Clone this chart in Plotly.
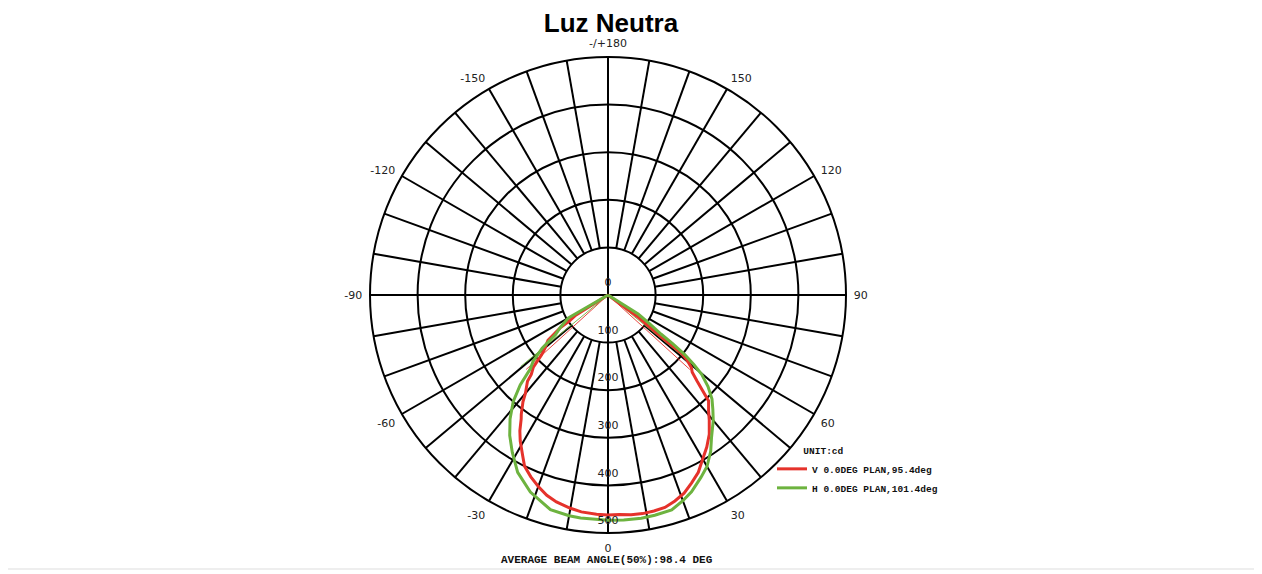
import plotly.graph_objects as go

# ---------------- data ----------------
title_text = "Luz Neutra"
unit_text = "UNIT:cd"
footer_text = "AVERAGE BEAM ANGLE(50%):98.4 DEG"

angle_tick_vals = [0, 30, 60, 90, 120, 150, 180, 210, 240, 270, 300, 330]
angle_tick_text = ["0", "30", "60", "90", "120", "150", "-/+180",
                   "-150", "-120", "-90", "-60", "-30"]
radial_tick_vals = [0, 100, 200, 300, 400, 500]

v_name = "V 0.0DEG PLAN,95.4deg"
v_beam_angle = 95.4
v_theta = [-90, -58, -56, -55.5, -53, -50, -48, -46, -44, -43, -40, -38.5, -36, -35,
           -33, -31, -28, -26, -23, -20, -17, -14, -10, -7, -3, 0, 3, 6, 9, 12, 15,
           18, 21, 24, 27, 30, 33, 36, 39, 41, 43.5, 46, 47.5, 49, 50.5, 51.5, 51.7,
           53.7, 90]
v_cd = [0, 80, 98, 122, 158, 172, 188, 218, 232, 248, 270, 287, 310, 318,
        340, 358, 382, 400, 415, 428, 440, 448, 455, 459, 461, 462, 462, 464, 465, 464, 462,
        455, 446, 432, 418, 398, 381, 362, 338, 322, 307, 260, 240, 232, 215, 198, 143,
        79, 0]

h_name = "H 0.0DEG PLAN,101.4deg"
h_beam_angle = 101.4
h_theta = [-90, -60, -56, -53, -51, -48.5, -46.5, -44.3, -41.6, -38.3, -35, -31.3, -27,
           -21.5, -15, -10, -7, 0, 4, 8.5, 12, 16.5, 20, 23, 27, 30, 33.3, 36, 40, 42.5,
           45, 47.5, 49.7, 51, 52.2, 53, 53.6, 55.5, 57.7, 90]
h_cd = [0, 96, 120, 138, 178, 210, 225, 264, 300, 332, 360, 387, 418,
        445, 467, 471, 472, 473, 474, 474, 473, 471, 460, 449, 430, 416, 393, 370, 344, 326,
        309, 285, 258, 232, 204, 170, 139, 105, 75, 0]

# ---------------- style ----------------
RED = "#e5322b"
GREEN = "#6db33f"
MONO = "Courier New, Liberation Mono, monospace"
SANS = "DejaVu Sans, Verdana, sans-serif"

W, H = 1262, 574
OFF = 8  # page offset of the rendered figure


def px(v):
    return v - OFF


fig = go.Figure()

# invisible trace so the gridded (holed) polar subplot is drawn
fig.add_trace(go.Scatterpolar(r=[100], theta=[0], mode="markers",
                              marker=dict(opacity=0), hoverinfo="skip",
                              showlegend=False, subplot="polar"))

# beam-angle thin lines (center -> 50% point)
for beam, cd, col in [(v_beam_angle, v_cd, RED), (h_beam_angle, h_cd, GREEN)]:
    half = beam / 2.0
    hv = max(cd) / 2.0
    for sgn in (-1, 1):
        fig.add_trace(go.Scatterpolar(r=[0, hv], theta=[0, sgn * half], mode="lines",
                                      line=dict(color=col, width=0.9),
                                      hoverinfo="skip", showlegend=False,
                                      subplot="polar2"))

fig.add_trace(go.Scatterpolar(r=v_cd, theta=v_theta, mode="lines", name=v_name,
                              line=dict(color=RED, width=3), subplot="polar2"))
fig.add_trace(go.Scatterpolar(r=h_cd, theta=h_theta, mode="lines", name=h_name,
                              line=dict(color=GREEN, width=3), subplot="polar2"))

# radial value labels along the 0 deg axis
fig.add_trace(go.Scatterpolar(r=radial_tick_vals, theta=[0] * len(radial_tick_vals),
                              mode="markers+text", text=[str(v) for v in radial_tick_vals],
                              textposition="top center",
                              marker=dict(size=8, opacity=0),
                              textfont=dict(family=SANS, size=11, color="#222"),
                              hoverinfo="skip", showlegend=False, subplot="polar2"))

spoke_vals = list(range(0, 360, 10))
spoke_text = [angle_tick_text[angle_tick_vals.index(a)] if a in angle_tick_vals else ""
              for a in spoke_vals]

cx, cy, R = 607 - 7, 294 - 7, 238
dom_x = [(cx - R) / W, (cx + R) / W]
dom_y = [(H - cy - R) / H, (H - cy + R) / H]

fig.update_layout(
    width=W, height=H,
    margin=dict(l=0, r=0, t=0, b=0),
    paper_bgcolor="white",
    showlegend=True,
    title=dict(text="<b>%s</b>" % title_text, x=px(611) / W, y=1 - px(23) / H,
               xanchor="center", yanchor="middle",
               font=dict(family="Liberation Sans, Arial, sans-serif", size=26, color="black")),
    polar=dict(
        domain=dict(x=dom_x, y=dom_y),
        hole=0.2,
        bgcolor="white",
        radialaxis=dict(range=[100, 500], visible=False),
        angularaxis=dict(rotation=-90, direction="counterclockwise",
                         tickmode="array", tickvals=spoke_vals, ticktext=spoke_text,
                         showgrid=True, gridcolor="black", gridwidth=1.5,
                         showline=False, ticks="outside", ticklen=5,
                         tickcolor="rgba(0,0,0,0)",
                         tickfont=dict(family=SANS, size=11, color="#222")),
    ),
    polar2=dict(
        domain=dict(x=dom_x, y=dom_y),
        bgcolor="rgba(0,0,0,0)",
        radialaxis=dict(range=[0, 500], tickmode="array", tickvals=radial_tick_vals[1:],
                        showticklabels=False, showline=False, ticks="",
                        gridcolor="black", gridwidth=1.5),
        angularaxis=dict(rotation=-90, direction="counterclockwise",
                         tickmode="array", tickvals=[0, 90, 180, 270],
                         showticklabels=False, ticks="",
                         gridcolor="black", gridwidth=1.5,
                         showline=True, linecolor="black", linewidth=2),
    ),
    legend=dict(x=px(772) / W, y=1 - px(442) / H, xanchor="left", yanchor="top",
                bgcolor="rgba(0,0,0,0)",
                title=dict(text="<b>%s</b>" % unit_text + "&nbsp;" * 12, side="top center",
                           font=dict(family=MONO, size=9.5, color="#111")),
                font=dict(family=MONO, size=9.5, color="#111", weight="bold"),
                itemwidth=30, tracegroupgap=0),
    annotations=[dict(text="<b>%s</b>" % footer_text, x=px(607) / W, y=1 - px(560) / H,
                      xref="paper", yref="paper", showarrow=False,
                      xanchor="center", yanchor="middle",
                      font=dict(family=MONO, size=11, color="#111"))],
    shapes=[dict(type="rect", xref="paper", yref="paper",
                 x0=px(5) / W, x1=px(1257) / W, y0=1 - px(569) / H, y1=1 - px(5) / H,
                 line=dict(color="#dddddd", width=1), fillcolor="rgba(0,0,0,0)",
                 layer="below")],
)

fig.write_html("out.html")
